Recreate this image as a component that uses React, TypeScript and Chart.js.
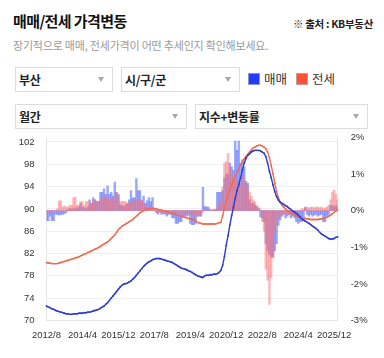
import React, { useEffect, useRef } from "react";
import { Chart, registerables } from "chart.js";

Chart.register(...registerables);

// ---- categories (monthly, 2012/8 .. 2026/2) ----
const START_YEAR = 2012;
const START_MONTH = 8;
const MONTH_COUNT = 163;
const months: string[] = [];
for (let i = 0; i < MONTH_COUNT; i++) {
  const m = START_MONTH - 1 + i;
  months.push(`${START_YEAR + Math.floor(m / 12)}/${(m % 12) + 1}`);
}

const xTickLabels = ["2012/8", "2014/4", "2015/12", "2017/8", "2019/4", "2020/12", "2022/8", "2024/4", "2025/12"];
const leftTicks = [70, 74, 78, 82, 86, 90, 94, 98, 102];
const rightTicks = [-3, -2, -1, 0, 1, 2];

// 매매 지수
const saleIndex = [
  72.6, 72.4, 72.3, 72.1, 72.0, 71.8, 71.7, 71.6, 71.5, 71.4,
  71.3, 71.2, 71.2, 71.1, 71.1, 71.2, 71.2, 71.2, 71.3, 71.3,
  71.3, 71.4, 71.4, 71.5, 71.5, 71.6, 71.7, 71.8, 71.9, 72.0,
  72.2, 72.4, 72.6, 72.9, 73.2, 73.6, 74.0, 74.4, 74.8, 75.2,
  75.6, 76.0, 76.3, 76.5, 76.6, 76.7, 76.9, 77.1, 77.4, 77.7,
  78.1, 78.5, 78.9, 79.3, 79.7, 80.0, 80.3, 80.5, 80.7, 80.9,
  81.0, 81.1, 81.1, 81.1, 81.0, 80.9, 80.8, 80.7, 80.6, 80.5,
  80.4, 80.2, 80.0, 79.8, 79.6, 79.4, 79.3, 79.2, 79.1, 78.9,
  78.8, 78.6, 78.4, 78.2, 78.0, 77.9, 77.8, 77.7, 78.0, 78.1,
  78.1, 78.2, 78.2, 78.3, 78.3, 78.4, 78.6, 79.0, 79.9, 81.5,
  83.5, 85.2, 87.1, 88.8, 90.3, 91.9, 93.3, 94.4, 95.6, 97.0,
  98.2, 99.1, 99.6, 99.9, 100.2, 100.4, 100.5, 100.5, 100.5, 100.4,
  100.2, 100.0, 99.4, 98.2, 96.8, 95.6, 94.3, 93.1, 92.2, 91.6,
  91.2, 91.0, 90.8, 90.6, 90.4, 90.1, 89.9, 89.6, 89.4, 89.2,
  88.9, 88.6, 88.2, 88.0, 87.8, 87.6, 87.4, 87.2, 86.9, 86.7,
  86.5, 86.2, 85.8, 85.5, 85.3, 85.1, 84.9, 84.7, 84.6, 84.6,
  84.7, 84.9, 85.0,
];

// 전세 지수
const jeonseIndex = [
  80.4, 80.3, 80.3, 80.2, 80.2, 80.2, 80.2, 80.3, 80.4, 80.5,
  80.6, 80.7, 80.8, 80.9, 81.0, 81.1, 81.2, 81.3, 81.4, 81.6,
  81.7, 81.9, 82.0, 82.2, 82.3, 82.5, 82.6, 82.8, 82.9, 83.1,
  83.3, 83.5, 83.7, 83.9, 84.1, 84.4, 84.7, 85.0, 85.4, 85.8,
  86.3, 86.6, 86.9, 87.1, 87.3, 87.5, 87.7, 87.9, 88.1, 88.4,
  88.7, 89.0, 89.3, 89.5, 89.7, 89.9, 90.0, 90.0, 90.1, 90.1,
  90.1, 90.0, 89.9, 89.8, 89.8, 89.7, 89.6, 89.5, 89.4, 89.3,
  89.2, 89.1, 89.0, 88.9, 88.8, 88.7, 88.6, 88.5, 88.4, 88.3,
  88.2, 88.1, 88.0, 87.8, 87.6, 87.5, 87.4, 87.3, 87.3, 87.3,
  87.3, 87.3, 87.3, 87.3, 87.3, 87.4, 87.5, 87.6, 88.8, 90.2,
  91.5, 92.6, 93.5, 94.3, 95.1, 95.9, 96.6, 97.2, 97.9, 98.5,
  99.0, 99.4, 99.8, 100.2, 100.6, 100.9, 101.1, 101.3, 101.4, 101.4,
  101.3, 101.1, 100.8, 100.2, 99.2, 97.8, 96.3, 94.6, 93.1, 92.0,
  91.2, 90.7, 90.3, 90.0, 89.7, 89.5, 89.3, 89.1, 88.9, 88.7,
  88.6, 88.5, 88.4, 88.3, 88.3, 88.2, 88.2, 88.1, 88.1, 88.1,
  88.1, 88.1, 88.2, 88.2, 88.3, 88.4, 88.5, 88.7, 88.9, 89.1,
  89.4, 89.6, 89.8,
];

// 매매 변동률 (%)
const saleRate = [
  -0.27, -0.27, -0.15, -0.27, -0.27, -0.1, -0.1, -0.12, -0.1, -0.1,
  -0.08, -0.05, 0.03, 0.05, 0.05, 0.05, 0.08, 0.05, 0.1, 0.2,
  0.1, 0.08, 0.05, 0.1, 0.3, 0.2, 0.35, 0.3, 0.25, 0.25,
  0.5, 0.5, 0.6, 0.45, 0.68, 0.45, 0.5, 0.4, 0.78, 0.5,
  0.45, 0.15, 0.15, 0.1, 0.15, 0.2, 0.3, 0.55, 0.35, 0.35,
  0.88, 0.55, 0.55, 0.27, 0.4, 0.2, 0.27, 0.36, 0.25, 0.36,
  0.05, -0.05, -0.1, -0.05, -0.1, -0.08, -0.1, -0.15, -0.1, -0.1,
  -0.2, -0.2, -0.35, -0.35, -0.3, -0.3, -0.15, -0.15, -0.15, -0.12,
  -0.35, -0.38, -0.38, -0.35, -0.15, -0.15, -0.15, 0.64, 0.12, 0.1,
  0.1, 0.03, 0.02, 0.03, 0.03, 0.5, 0.5, 0.5, 0.55, 0.9,
  1.0, 1.0, 1.3, 1.2, 1.1, 1.9, 1.65, 1.9, 1.3, 1.4,
  1.2, 0.8, 0.75, 0.3, 0.2, 0.2, 0.15, 0.1, 0.05, -0.17,
  -0.2, -0.3, -0.9, -1.1, -1.2, -1.26, -1.26, -1.1, -0.9, -0.4,
  -0.25, -0.15, -0.1, -0.2, -0.15, -0.1, -0.2, -0.15, -0.2, -0.3,
  -0.35, -0.3, -0.3, -0.25, 0.1, -0.1, -0.15, -0.1, -0.15, -0.12,
  -0.1, -0.15, -0.12, -0.1, -0.3, -0.3, -0.15, -0.1, 0.15, 0.15,
  0.1, 0.15, 0.1,
];

// 전세 변동률 (%)
const jeonseRate = [
  -0.05, -0.05, -0.03, -0.05, -0.02, 0, 0.05, 0.27, 0.27, 0.1,
  0.13, 0.1, 0.1, 0.15, 0.15, 0.35, 0.37, 0.15, 0.15, 0.25,
  0.25, 0.15, 0.25, 0.25, 0.15, 0.2, 0.3, 0.3, 0.25, 0.25,
  0.3, 0.35, 0.35, 0.4, 0.35, 0.3, 0.3, 0.35, 0.3, 0.5,
  0.4, 0.25, 0.25, 0.25, 0.25, 0.2, 0.2, 0.25, 0.25, 0.3,
  0.3, 0.3, 0.3, 0.3, 0.2, 0.15, 0.1, 0.1, 0.1, 0.05,
  0.02, -0.05, -0.05, -0.03, -0.05, -0.05, -0.05, -0.05, -0.05, -0.05,
  -0.05, -0.05, -0.05, -0.05, -0.05, -0.05, -0.1, -0.1, -0.08, -0.05,
  -0.1, -0.1, -0.12, -0.15, -0.15, -0.1, -0.1, -0.05, 0.02, 0.02,
  0.02, 0.02, 0, 0.02, 0.03, 0.1, 0.2, 0.27, 0.65, 1.3,
  1.34, 1.57, 1.2, 1.0, 0.9, 0.9, 0.8, 0.75, 0.75, 0.95,
  0.9, 0.75, 0.6, 0.5, 0.4, 0.3, 0.25, 0.15, 0.1, 0.05,
  -0.3, -0.55, -1.6, -1.9, -2.56, -1.84, -1.3, -0.6, -0.4, -0.2,
  -0.15, -0.1, -0.1, -0.05, -0.1, -0.1, -0.05, -0.05, -0.05, -0.05,
  -0.03, 0, 0.05, 0.05, 0.08, 0.1, 0.08, 0.1, 0.1, 0.08,
  0.1, 0.1, 0.08, 0.1, 0.05, 0.08, 0.1, 0.15, 0.3, 0.5,
  0.56, 0.45, 0.3,
];

const SALE_LINE = "#2d3ccc";
const JEONSE_LINE = "#f26b50";
const SALE_BAR = "rgba(95,115,250,0.62)";
const JEONSE_BAR = "rgba(250,115,115,0.5)";
const TICK_FONT = { family: "'Liberation Sans', Arial, sans-serif", size: 9.5 };
const UI_FONT = "'Noto Sans CJK KR', 'Noto Sans', sans-serif";

function ChartCanvas() {
  const ref = useRef<HTMLCanvasElement | null>(null);
  useEffect(() => {
    if (!ref.current) return;
    const fixVertical = (w: number) => (s: any) => {
      s.width = w;
      s.paddingTop = 7.5;
      s.paddingBottom = 0;
    };
    const chart = new Chart(ref.current, {
      type: "bar",
      data: {
        labels: months,
        datasets: [
          {
            type: "line",
            label: "매매 지수",
            data: saleIndex,
            yAxisID: "y",
            borderColor: SALE_LINE,
            backgroundColor: SALE_LINE,
            borderWidth: 1.4,
            pointRadius: 0.9,
            pointBorderWidth: 0,
            pointBackgroundColor: SALE_LINE,
            tension: 0,
            order: 0,
          } as any,
          {
            type: "line",
            label: "전세 지수",
            data: jeonseIndex,
            yAxisID: "y",
            borderColor: JEONSE_LINE,
            backgroundColor: JEONSE_LINE,
            borderWidth: 1.4,
            pointRadius: 0.9,
            pointBorderWidth: 0,
            pointBackgroundColor: JEONSE_LINE,
            tension: 0,
            order: 1,
          } as any,
          {
            type: "bar",
            label: "매매 변동률",
            data: saleRate,
            yAxisID: "y1",
            backgroundColor: SALE_BAR,
            grouped: false,
            barPercentage: 1,
            categoryPercentage: 1,
            order: 3,
          } as any,
          {
            type: "bar",
            label: "전세 변동률",
            data: jeonseRate,
            yAxisID: "y1",
            backgroundColor: JEONSE_BAR,
            grouped: false,
            barPercentage: 1,
            categoryPercentage: 1,
            order: 2,
          } as any,
        ],
      },
      options: {
        responsive: false,
        animation: false,
        layout: { padding: 0 },
        plugins: { legend: { display: false }, tooltip: { enabled: false } },
        scales: {
          x: {
            offset: false,
            grid: { display: false, drawTicks: false },
            border: { display: true, color: "#e4e4e4" },
            ticks: {
              autoSkip: false,
              maxRotation: 0,
              minRotation: 0,
              color: "#333",
              font: TICK_FONT,
              padding: 9,
              callback: (_v: any, i: number) => (xTickLabels.includes(months[i]) ? months[i] : null),
            },
            afterFit: (s: any) => {
              s.height = 37.5;
            },
          },
          y: {
            position: "left",
            min: 70,
            max: 102.8,
            afterBuildTicks: (s: any) => {
              s.ticks = leftTicks.map((v) => ({ value: v }));
            },
            grid: { color: "#efefef", drawTicks: false },
            border: { display: true, color: "#e4e4e4" },
            ticks: { color: "#333", font: TICK_FONT, padding: 12 },
            afterFit: fixVertical(46.5),
          },
          y1: {
            position: "right",
            min: -3,
            max: 2,
            afterBuildTicks: (s: any) => {
              s.ticks = rightTicks.map((v) => ({ value: v }));
            },
            grid: { display: false, drawTicks: false },
            border: { display: true, color: "#e4e4e4" },
            ticks: { color: "#333", font: TICK_FONT, padding: 13, callback: (v: any) => `${v}%` },
            afterFit: fixVertical(46.3),
          },
        },
      } as any,
    });
    return () => chart.destroy();
  }, []);
  return <canvas ref={ref} width={384} height={228} style={{ position: "absolute", left: 0, top: 130, width: 384, height: 228 }} />;
}

function Select({ left, top, width, height, label }: { left: number; top: number; width: number; height: number; label: string }) {
  return (
    <div
      style={{
        position: "absolute",
        left,
        top,
        width,
        height,
        boxSizing: "border-box",
        border: "1px solid #dcdcdc",
        background: "#fff",
      }}
    >
      <div
        style={{
          position: "absolute",
          left: 3,
          top: 0,
          lineHeight: `${height - 2}px`,
          fontSize: 12,
          fontWeight: 700,
          color: "#222",
          fontFamily: UI_FONT,
          letterSpacing: -0.3,
        }}
      >
        {label}
      </div>
      <div
        style={{
          position: "absolute",
          right: 8,
          top: (height - 2) / 2 - 2.5,
          width: 0,
          height: 0,
          borderLeft: "3.5px solid transparent",
          borderRight: "3.5px solid transparent",
          borderTop: "5px solid #a8a8a8",
        }}
      />
    </div>
  );
}

export default function App() {
  return (
    <div
      style={{
        position: "fixed",
        left: 0,
        top: 0,
        width: 384,
        height: 358,
        background: "#fff",
        overflow: "hidden",
        fontFamily: UI_FONT,
      }}
    >
      <div style={{ position: "absolute", left: 13, top: 11, fontSize: 15, lineHeight: "20px", fontWeight: 700, color: "#111", letterSpacing: -0.6 }}>
        매매/전세 가격변동
      </div>
      <div style={{ position: "absolute", right: 11, top: 16, fontSize: 10.5, lineHeight: "16px", fontWeight: 700, color: "#222", letterSpacing: -0.3 }}>
        ※ 출처 : KB부동산
      </div>
      <div style={{ position: "absolute", left: 13, top: 37, fontSize: 11, lineHeight: "16px", color: "#9a9a9a", letterSpacing: -0.2 }}>
        장기적으로 매매, 전세가격이 어떤 추세인지 확인해보세요.
      </div>

      <Select left={15} top={67} width={98} height={25} label="부산" />
      <Select left={121} top={67} width={119} height={25} label="시/구/군" />

      <div style={{ position: "absolute", left: 248, top: 73, width: 12, height: 12, boxSizing: "border-box", background: "#1f3cff", border: "1px solid #8a95c8" }} />
      <div style={{ position: "absolute", left: 264, top: 70, fontSize: 12.5, lineHeight: "18px", color: "#333" }}>매매</div>
      <div style={{ position: "absolute", left: 296, top: 73, width: 12, height: 12, boxSizing: "border-box", background: "#ff5232", border: "1px solid #c99" }} />
      <div style={{ position: "absolute", left: 312, top: 70, fontSize: 12.5, lineHeight: "18px", color: "#333" }}>전세</div>

      <Select left={15} top={104} width={172} height={25} label="월간" />
      <Select left={195} top={104} width={173} height={25} label="지수+변동률" />

      <ChartCanvas />
    </div>
  );
}
